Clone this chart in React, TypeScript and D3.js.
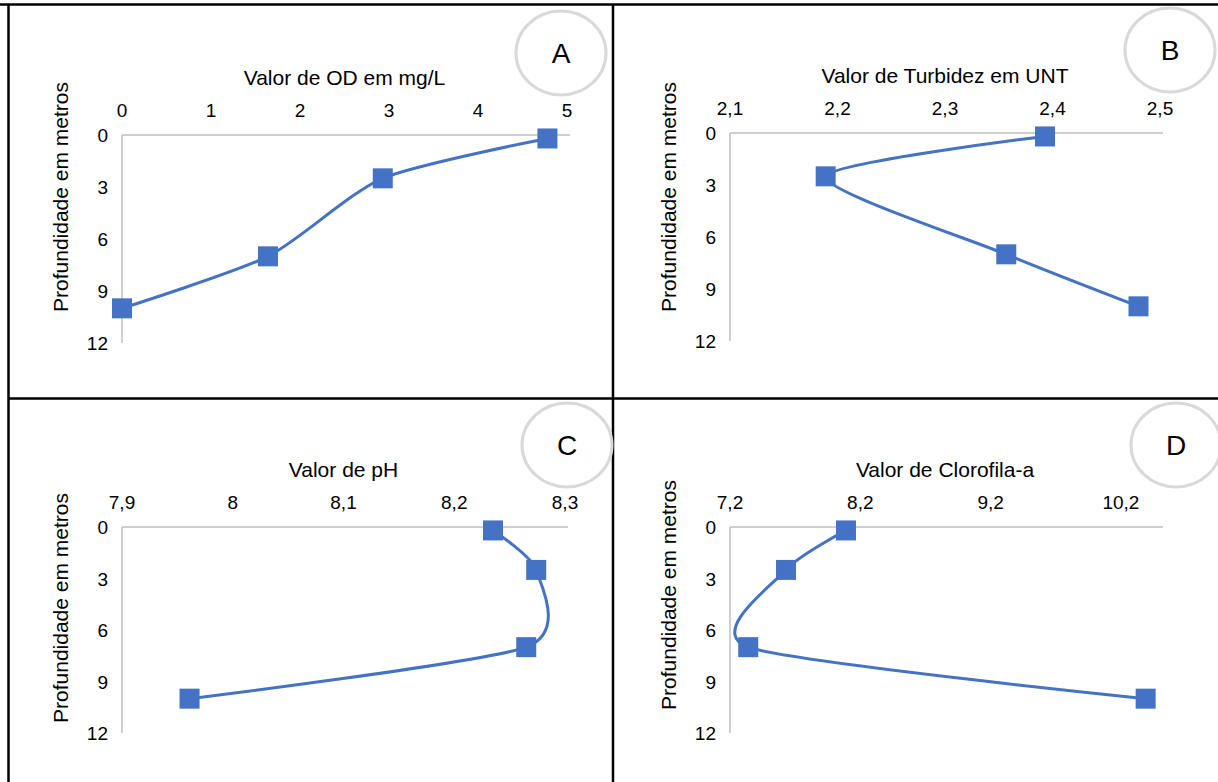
import * as d3 from "d3";

// depth (m) of each sample, shared by all four profiles
const depths = [0.2, 2.5, 7, 10];
const depthTicks = [0, 3, 6, 9, 12];

// A - dissolved oxygen
const odValues = [4.78, 2.93, 1.64, 0];
const odTicks = [0, 1, 2, 3, 4, 5];

// B - turbidity
const turbidezValues = [2.393, 2.189, 2.357, 2.48];
const turbidezTicks = [2.1, 2.2, 2.3, 2.4, 2.5];

// C - pH
const phValues = [8.235, 8.274, 8.265, 7.961];
const phTicks = [7.9, 8, 8.1, 8.2, 8.3];

// D - chlorophyll-a
const clorofilaValues = [8.09, 7.63, 7.34, 10.39];
const clorofilaTicks = [7.2, 8.2, 9.2, 10.2];

const BLUE = "#4472C4";
const FONT = "'Liberation Sans', Arial, sans-serif";

const fmt = (v: number) => String(v).replace(".", ",");

type PanelProps = {
  letter: string;
  title: string;
  values: number[];
  ticks: number[];
  xDomain: [number, number];
  x0: number; x1: number; y0: number; y1: number;
  circle: [number, number];
  yTitleMid: number;
};

function Panel({letter, title, values, ticks, xDomain, x0, x1, y0, y1, circle, yTitleMid}: PanelProps) {
  const x = d3.scaleLinear().domain(xDomain).range([x0, x1]);
  const y = d3.scaleLinear().domain([0, 12]).range([y0, y1]);
  const pts = values.map((v, i) => [v, depths[i]] as [number, number]);
  // smoothed line like the spreadsheet's
  const line = d3.line<[number, number]>()
    .x(d => x(d[0]))
    .y(d => y(d[1]))
    .curve(d3.curveCardinal.tension(0.3));

  return (
    <g>
      {/* label circle */}
      <ellipse cx={circle[0]} cy={circle[1]} rx={45} ry={42} fill="none" stroke="#D9D9D9" strokeWidth={3} />
      <text x={circle[0]} y={circle[1] + 10} textAnchor="middle" fontSize={28} fontFamily={FONT} fill="#000">{letter}</text>

      {/* axes */}
      <line x1={x0} x2={x1 + 3} y1={y0} y2={y0} stroke="#BFBFBF" strokeWidth={1.5} />
      <line x1={x0} x2={x0} y1={y0} y2={y1} stroke="#BFBFBF" strokeWidth={1.5} />

      {ticks.map(t => (
        <text key={t} x={x(t)} y={y0 - 18} textAnchor="middle" fontSize={19} fontFamily={FONT} fill="#000">{fmt(t)}</text>
      ))}
      {depthTicks.map(t => (
        <text key={t} x={x0 - 14} y={y(t) + 7} textAnchor="end" fontSize={19} fontFamily={FONT} fill="#000">{t}</text>
      ))}

      <text x={(x0 + x1) / 2} y={y0 - 50} textAnchor="middle" fontSize={21} fontFamily={FONT} fill="#000">{title}</text>
      <text transform={`translate(${x0 - 54},${yTitleMid}) rotate(-90)`} textAnchor="middle" fontSize={21} fontFamily={FONT} fill="#000">Profundidade em metros</text>

      <path d={line(pts) || ""} fill="none" stroke={BLUE} strokeWidth={3} />
      {pts.map((d, i) => (
        <rect key={i} x={x(d[0]) - 10} y={y(d[1]) - 10} width={20} height={20} fill={BLUE} />
      ))}
    </g>
  );
}

export default function App() {
  return (
    <svg width={1218} height={782} style={{position: "absolute", left: 0, top: 0, background: "#fff"}}>
      <rect width={1218} height={782} fill="#fff" />
      {/* table grid */}
      <line x1={0} x2={1218} y1={4.5} y2={4.5} stroke="#000" strokeWidth={2.5} />
      <line x1={8.5} x2={8.5} y1={4} y2={782} stroke="#000" strokeWidth={2.5} />
      <line x1={613} x2={613} y1={4} y2={782} stroke="#000" strokeWidth={2.5} />
      <line x1={8} x2={1218} y1={398.5} y2={398.5} stroke="#000" strokeWidth={2.5} />

      <Panel letter="A" title="Valor de OD em mg/L" values={odValues} ticks={odTicks} xDomain={[0, 5]}
        x0={122} x1={567} y0={135} y1={343} circle={[561, 53]} yTitleMid={197} />
      <Panel letter="B" title="Valor de Turbidez em UNT" values={turbidezValues} ticks={turbidezTicks} xDomain={[2.1, 2.5]}
        x0={730} x1={1160} y0={133} y1={341} circle={[1170, 50]} yTitleMid={197} />
      <Panel letter="C" title="Valor de pH" values={phValues} ticks={phTicks} xDomain={[7.9, 8.3]}
        x0={122} x1={565} y0={527} y1={733} circle={[567, 445]} yTitleMid={608} />
      <Panel letter="D" title="Valor de Clorofila-a" values={clorofilaValues} ticks={clorofilaTicks} xDomain={[7.2, 10.5]}
        x0={730} x1={1160} y0={527} y1={733} circle={[1176, 445]} yTitleMid={595} />
    </svg>
  );
}
